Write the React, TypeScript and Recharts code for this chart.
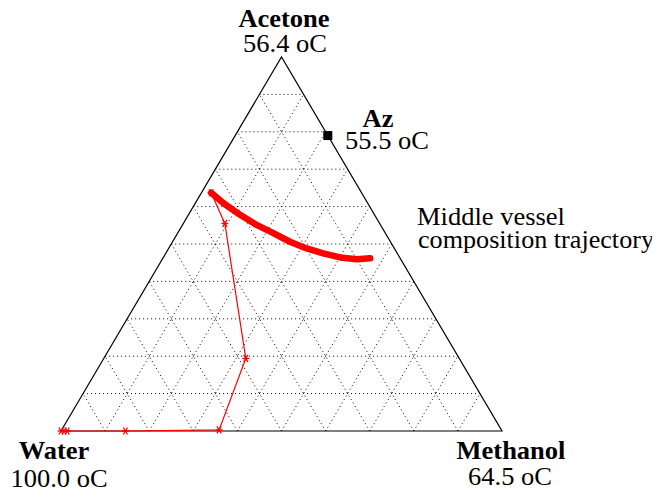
import { Scatter, ScatterChart, ReferenceLine, XAxis, YAxis } from "recharts";

// ternary compositions (mole fractions)
const gridFractions = [0.1, 0.2, 0.3, 0.4, 0.5, 0.6, 0.7, 0.8, 0.9];

const vesselAcetone = [0.637, 0.609, 0.578, 0.551, 0.529, 0.506, 0.488, 0.475, 0.464, 0.459, 0.462];
const vesselMethanol = [0.022, 0.064, 0.117, 0.168, 0.217, 0.266, 0.313, 0.357, 0.401, 0.441, 0.47];

const stillAcetone = [0.637, 0.555, 0.194, 0.003, 0.0, 0.0, 0.0, 0.0];
const stillMethanol = [0.022, 0.094, 0.322, 0.357, 0.146, 0.014, 0.007, 0.0];

const azAcetone = [0.79];
const azMethanol = [0.21];

const vertexNames = ["Acetone", "Water", "Methanol"];
const vertexTemps = ["56.4 oC", "100.0 oC", "64.5 oC"];

const toXY = (a: number, m: number) => ({ x: m + a / 2, y: a });

const vesselData = vesselAcetone.map((a, i) => toXY(a, vesselMethanol[i]));
const stillData = stillAcetone.map((a, i) => toXY(a, stillMethanol[i]));
const azData = azAcetone.map((a, i) => toXY(a, azMethanol[i]));
const outline = [toXY(0, 0), toXY(0, 1), toXY(1, 0), toXY(0, 0)];

const font = '"Liberation Serif", "Times New Roman", serif';

const Star = (p: any) => {
  const { cx, cy } = p;
  const r = 3.5;
  return (
    <g stroke="#ff0000" strokeWidth={1.3}>
      <line x1={cx - r} y1={cy} x2={cx + r} y2={cy} />
      <line x1={cx - r * 0.6} y1={cy - r} x2={cx + r * 0.6} y2={cy + r} />
      <line x1={cx - r * 0.6} y1={cy + r} x2={cx + r * 0.6} y2={cy - r} />
    </g>
  );
};

const Square = (p: any) => <rect x={p.cx - 4.5} y={p.cy - 4.5} width={9} height={9} fill="#000" />;

const NoDot = () => <g />;

// the original figure is a little stretched sideways, text included
const Txt = ({ x, y, bold, anchor = "middle", sx = 1.06, children }: any) => (
  <text transform={`translate(${x},${y}) scale(${sx},1)`} textAnchor={anchor} fontWeight={bold ? "bold" : "normal"}>
    {children}
  </text>
);

export default function App() {
  const dotted = { stroke: "#000", strokeWidth: 1, strokeDasharray: "1 3" };
  return (
    <div style={{ position: "relative", margin: -8, width: 660, height: 497, overflow: "hidden", fontFamily: font }}>
      <ScatterChart width={660} height={497} margin={{ top: 57, right: 158, bottom: 66, left: 61 }}>
        <XAxis type="number" dataKey="x" domain={[0, 1]} hide />
        <YAxis type="number" dataKey="y" domain={[0, 1]} hide />
        {gridFractions.map((f) => (
          <ReferenceLine key={"a" + f} segment={[toXY(f, 0), toXY(f, 1 - f)]} {...dotted} />
        ))}
        {gridFractions.map((f) => (
          <ReferenceLine key={"m" + f} segment={[toXY(0, f), toXY(1 - f, f)]} {...dotted} />
        ))}
        {gridFractions.map((f) => (
          <ReferenceLine key={"w" + f} segment={[toXY(0, 1 - f), toXY(1 - f, 0)]} {...dotted} />
        ))}
        <Scatter data={outline} line={{ stroke: "#000", strokeWidth: 1.2 }} lineType="joint" shape={NoDot} isAnimationActive={false} />
        <Scatter data={stillData} line={{ stroke: "#ff0000", strokeWidth: 1.2 }} lineType="joint" shape={Star} isAnimationActive={false} />
        <Scatter data={vesselData} line={{ stroke: "#ff0000", strokeWidth: 6.5, strokeLinecap: "round", strokeLinejoin: "round" }} lineType="joint" shape={NoDot} isAnimationActive={false} />
        <Scatter data={azData} shape={Square} isAnimationActive={false} />
      </ScatterChart>
      <svg width={660} height={497} style={{ position: "absolute", left: 0, top: 0, pointerEvents: "none" }} fontFamily={font} fontSize={25}>
        <Txt x={284} y={27} bold>{vertexNames[0]}</Txt>
        <Txt x={285} y={52}>{vertexTemps[0]}</Txt>
        <Txt x={378} y={127} bold>Az</Txt>
        <Txt x={387} y={149}>55.5 oC</Txt>
        <Txt x={54} y={459} bold>{vertexNames[1]}</Txt>
        <Txt x={59} y={487}>{vertexTemps[1]}</Txt>
        <Txt x={511} y={459} bold>{vertexNames[2]}</Txt>
        <Txt x={510} y={485}>{vertexTemps[2]}</Txt>
        <text x={417} y={225} textLength={148} lengthAdjust="spacingAndGlyphs">Middle vessel</text>
        <text x={418} y={248} textLength={236} lengthAdjust="spacingAndGlyphs">composition trajectory</text>
      </svg>
    </div>
  );
}
